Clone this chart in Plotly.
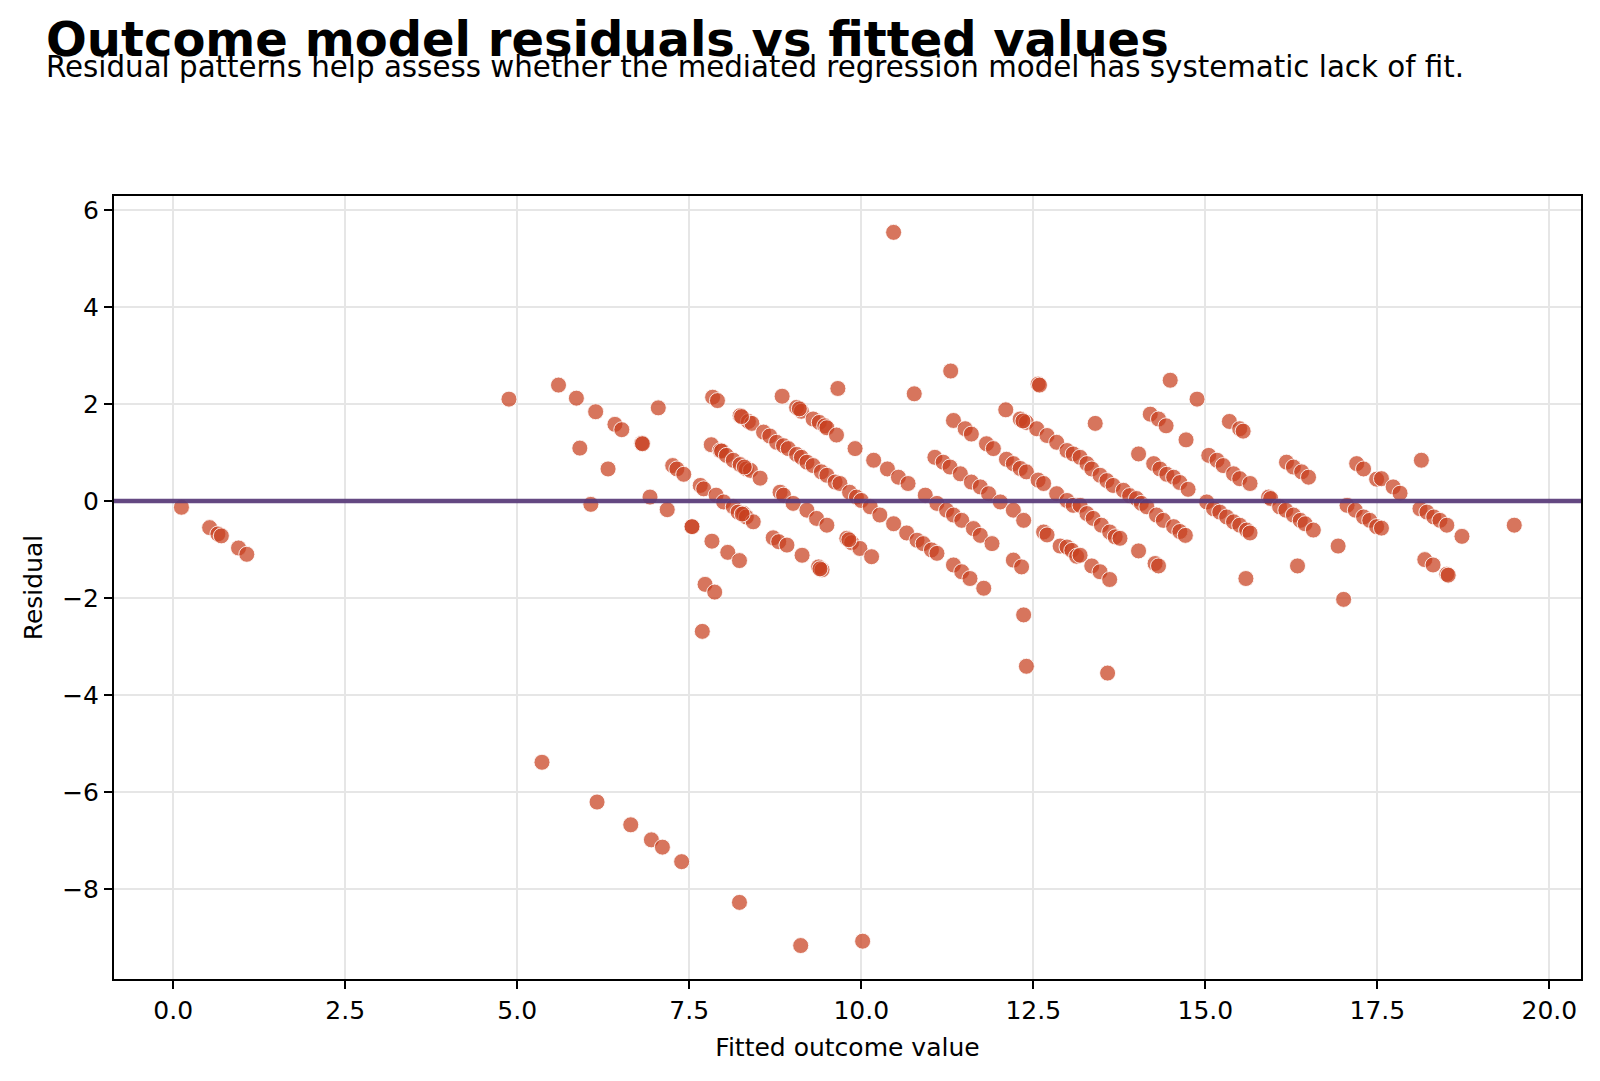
import plotly.graph_objects as go

# ---- data (fitted value, residual) ----
left_fitted = [0.12, 0.53, 0.65, 0.70, 0.95, 1.07]
left_resid = [-0.13, -0.55, -0.68, -0.72, -0.97, -1.10]

mid_fitted = [4.88, 5.60, 5.86, 5.91, 6.14, 6.07, 6.32, 6.42, 6.52, 6.81, 6.82, 7.05, 6.93, 7.18,
              7.26, 7.32, 7.42, 7.54, 7.54, 7.66, 7.71, 7.83, 7.84, 7.91, 7.82, 7.89, 8.00, 8.06,
              8.23, 7.73, 7.87, 7.69,
              7.95, 7.97, 8.04, 8.14, 8.24, 8.33, 8.39, 8.53, 8.30,
              8.14, 8.21, 8.29, 8.33, 8.43, 8.27,
              8.24, 8.36, 8.41, 8.58, 8.67, 8.77, 8.26,
              8.72, 8.80, 8.85, 8.82, 8.87]
mid_resid = [2.10, 2.39, 2.12, 1.09, 1.84, -0.07, 0.66, 1.58, 1.47, 1.19, 1.18, 1.92, 0.08, -0.18,
             0.73, 0.66, 0.55, -0.53, -0.53, 0.32, 0.25, -0.83, 2.14, 2.07, 1.16, 0.12, -0.02, -1.06,
             -1.23, -1.72, -1.88, -2.69,
             1.04, 1.03, 0.94, 0.84, 0.75, 0.66, 0.63, 0.47, 0.70,
             -0.12, -0.23, -0.26, -0.33, -0.43, -0.27,
             1.76, 1.64, 1.60, 1.42, 1.34, 1.21, 1.74,
             -0.76, -0.84, 2.16, 0.18, 0.12]

center_fitted = [9.66, 10.77, 11.30, 12.57, 12.59, 12.10,
                 9.06, 9.13, 9.30, 9.39, 9.47, 9.50, 9.64, 9.10,
                 8.87, 8.94, 9.06, 9.13, 9.21, 9.30, 9.42, 9.50, 9.62, 9.69, 9.83, 9.93, 10.00,
                 10.13, 10.27, 10.47, 10.66, 10.81, 10.90, 11.02, 11.10, 11.34, 11.46, 11.58, 11.78,
                 9.91, 10.18, 10.38, 10.54, 10.68, 10.93, 11.10, 11.24, 11.34, 11.46, 11.63, 11.73,
                 11.90,
                 11.07, 11.19, 11.29, 11.44, 11.60, 11.73, 11.85, 12.02, 12.21, 12.36, 12.65, 12.70,
                 12.89, 12.99, 13.06, 13.13,
                 11.34, 11.51, 11.60, 11.82, 11.92, 12.11, 12.21, 12.31, 12.40, 12.57, 12.65, 12.84,
                 12.99, 13.08,
                 12.31, 12.40, 12.55, 12.70, 12.84, 12.99, 13.08, 12.35,
                 9.01, 9.21, 9.35, 9.50, 9.79, 9.86, 9.98, 10.15, 9.82,
                 8.92, 9.14, 9.38, 9.43, 9.40,
                 12.21, 12.33, 12.36, 12.40]
center_resid = [2.32, 2.21, 2.68, 2.41, 2.39, 1.88,
                1.93, 1.85, 1.69, 1.62, 1.55, 1.51, 1.36, 1.90,
                1.14, 1.08, 0.96, 0.90, 0.80, 0.73, 0.60, 0.53, 0.39, 0.36, 0.18, 0.08, 0.01,
                -0.12, -0.29, -0.47, -0.66, -0.81, -0.88, -1.01, -1.08, -1.32, -1.46, -1.60, -1.80,
                1.08, 0.84, 0.66, 0.49, 0.36, 0.12, -0.05, -0.19, -0.29, -0.40, -0.57, -0.71,
                -0.88,
                0.90, 0.80, 0.70, 0.56, 0.39, 0.29, 0.15, -0.02, -0.19, -0.40, -0.64, -0.70,
                -0.93, -0.95, -1.02, -1.14,
                1.66, 1.49, 1.38, 1.18, 1.08, 0.86, 0.77, 0.67, 0.60, 0.43, 0.36, 0.15,
                0.01, -0.09,
                1.69, 1.62, 1.49, 1.35, 1.21, 1.04, 0.97, 1.65,
                -0.05, -0.19, -0.36, -0.50, -0.77, -0.86, -0.98, -1.15, -0.80,
                -0.91, -1.12, -1.36, -1.42, -1.40,
                -1.22, -1.36, -2.35, -3.41]

right_fitted = [14.49, 14.88, 13.40, 14.20, 14.32, 14.43, 14.72, 15.35, 15.50, 15.55, 14.03,
                14.25, 14.34, 14.44, 14.54, 14.63, 14.75,
                13.18, 13.28, 13.35, 13.47, 13.57, 13.66, 13.81, 13.90, 14.00, 14.07, 14.15, 14.29,
                14.39, 14.54, 14.63, 14.71,
                13.18, 13.28, 13.37, 13.49, 13.61, 13.69, 13.76,
                13.18, 13.35, 13.47, 13.61,
                14.03, 14.27, 14.32, 13.58,
                15.05, 15.17, 15.26, 15.41, 15.50, 15.65,
                15.02, 15.12, 15.21, 15.31, 15.41, 15.50, 15.60, 15.65,
                15.59,
                15.92, 15.95, 16.08, 16.17, 16.28, 16.38, 16.45, 16.57,
                16.18, 16.28, 16.40, 16.50,
                16.34, 16.93, 17.01,
                17.06, 17.18, 17.30, 17.39, 17.49,
                17.20, 17.30, 17.49]
right_resid = [2.49, 2.10, 1.60, 1.79, 1.69, 1.55, 1.26, 1.64, 1.49, 1.44, 0.97,
               0.77, 0.66, 0.55, 0.49, 0.38, 0.24,
               0.90, 0.77, 0.66, 0.53, 0.42, 0.32, 0.22, 0.11, 0.05, -0.05, -0.12, -0.29,
               -0.40, -0.53, -0.63, -0.71,
               -0.09, -0.26, -0.36, -0.50, -0.64, -0.74, -0.77,
               -1.12, -1.34, -1.46, -1.62,
               -1.03, -1.29, -1.34, -3.55,
               0.94, 0.84, 0.73, 0.56, 0.46, 0.36,
               -0.02, -0.16, -0.23, -0.33, -0.43, -0.50, -0.60, -0.66,
               -1.60,
               0.08, 0.05, -0.12, -0.19, -0.29, -0.40, -0.47, -0.60,
               0.80, 0.70, 0.60, 0.49,
               -1.34, -0.93, -2.03,
               -0.09, -0.19, -0.33, -0.40, -0.53,
               0.77, 0.66, 0.45]

far_fitted = [17.56, 17.73, 17.83, 18.14, 17.56,
              18.12, 18.22, 18.32, 18.41, 18.51, 18.73,
              18.19, 18.31, 18.51, 18.53, 19.49]
far_resid = [0.46, 0.29, 0.16, 0.84, -0.56,
             -0.16, -0.23, -0.33, -0.40, -0.50, -0.73,
             -1.21, -1.32, -1.51, -1.53, -0.50]

outlier_fitted = [5.36, 6.16, 6.65, 6.95, 7.11, 7.39, 8.23, 9.12, 10.02, 10.47]
outlier_resid = [-5.39, -6.21, -6.68, -6.99, -7.14, -7.44, -8.28, -9.17, -9.08, 5.54]

fitted = left_fitted + mid_fitted + center_fitted + right_fitted + far_fitted + outlier_fitted
residuals = left_resid + mid_resid + center_resid + right_resid + far_resid + outlier_resid

x_ticks = [0, 2.5, 5, 7.5, 10, 12.5, 15, 17.5, 20]
y_ticks = [-8, -6, -4, -2, 0, 2, 4, 6]

title_text = "Outcome model residuals vs fitted values"
subtitle_text = "Residual patterns help assess whether the mediated regression model has systematic lack of fit."

fig = go.Figure()
fig.add_trace(go.Scatter(
    x=fitted, y=residuals, mode="markers", showlegend=False,
    marker=dict(size=16, color="rgba(200,64,30,0.72)",
                line=dict(color="rgba(255,255,255,0.85)", width=1)),
))
fig.add_hline(y=0, line=dict(color="rgba(88,58,120,0.92)", width=4.5), layer="above")

axis_common = dict(
    showgrid=True, gridcolor="#e6e6e6", gridwidth=1.5,
    showline=True, linecolor="black", linewidth=2, mirror=True,
    ticks="outside", ticklen=8, tickwidth=2, tickcolor="black",
    tickfont=dict(size=25, color="black"), zeroline=False,
)

fig.update_layout(
    width=1600, height=1081,
    margin=dict(l=114, r=19, t=196, b=102),
    paper_bgcolor="white", plot_bgcolor="white",
    font=dict(family="DejaVu Sans", color="black"),
    xaxis=dict(range=[-0.86, 20.46], tickmode="array", tickvals=x_ticks,
               ticktext=[f"{v:.1f}" for v in x_ticks],
               title=dict(text="Fitted outcome value", font=dict(size=25), standoff=14),
               **axis_common),
    yaxis=dict(range=[-9.86, 6.29], tickmode="array", tickvals=y_ticks,
               ticktext=[("\u2212" + str(-v)) if v < 0 else str(v) for v in y_ticks],
               title=dict(text="Residual", font=dict(size=25), standoff=12),
               **axis_common),
    annotations=[
        dict(text="<b>" + title_text + "</b>", xref="paper", yref="paper",
             x=-0.0477, y=1.201, xanchor="left", yanchor="middle", showarrow=False,
             font=dict(size=48, color="black")),
        dict(text=subtitle_text, xref="paper", yref="paper",
             x=-0.0477, y=1.1645, xanchor="left", yanchor="middle", showarrow=False,
             font=dict(size=29.3, color="black")),
    ],
)

fig.write_html("out.html")
